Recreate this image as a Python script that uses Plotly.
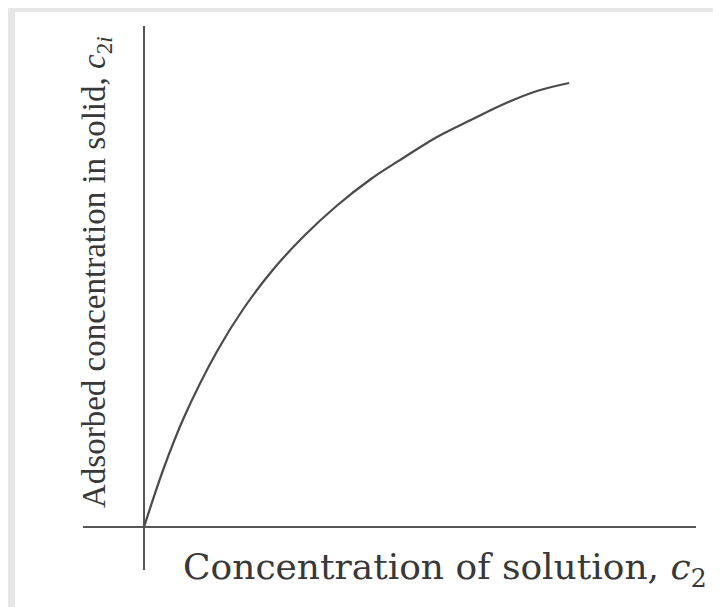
import plotly.graph_objects as go

# Concentration of solution, c2 (arbitrary units) and adsorbed concentration in solid, c2i
c2 = [0.0, 0.47, 0.93, 1.70, 2.33, 3.03, 3.73, 4.50, 5.29, 6.06, 6.83, 7.62, 8.39, 9.16, 9.91]
c2i = [0.0, 1.20, 2.19, 3.51, 4.38, 5.17, 5.82, 6.43, 6.96, 7.39, 7.80, 8.14, 8.46, 8.72, 8.88]

x_label = "Concentration of solution, <i>c</i><sub>2</sub>"
y_label = "Adsorbed concentration in solid, <i>c</i><sub>2<i>i</i></sub>"

W, H = 721, 607
ML, MR, MT, MB = 75, 33, 18, 45
pw, ph = W - ML - MR, H - MT - MB

def px(x):
    return (x - ML) / pw

def py(y):
    return (H - MB - y) / ph

fig = go.Figure()
fig.add_trace(go.Scatter(
    x=c2, y=c2i, mode="lines",
    line=dict(color="#4a4a4a", width=2.2, shape="spline", smoothing=1.0),
    hoverinfo="skip", showlegend=False,
))

ink = "#383838"
fig.update_xaxes(range=[-1.422, 12.867], showgrid=False, showticklabels=False, ticks="",
                 zeroline=True, zerolinecolor="#555555", zerolinewidth=2, showline=False)
fig.update_yaxes(range=[-0.86, 10.02], showgrid=False, showticklabels=False, ticks="",
                 zeroline=True, zerolinecolor="#555555", zerolinewidth=2, showline=False)

fig.add_annotation(text=x_label, xref="paper", yref="paper", x=px(437), y=py(561),
                   xanchor="center", yanchor="middle", showarrow=False,
                   font=dict(family="DejaVu Serif", size=36, color=ink))
fig.add_annotation(text=y_label, xref="paper", yref="paper", x=px(88), y=py(264),
                   xanchor="center", yanchor="middle", showarrow=False, textangle=-90,
                   font=dict(family="Liberation Serif", size=33, color=ink))

# scanned-page frame on the left and top edges
fig.add_shape(type="rect", xref="paper", yref="paper", x0=px(0), x1=px(7), y0=py(H), y1=py(0),
              fillcolor="#e6e6e6", line=dict(width=0), layer="below")
fig.add_shape(type="rect", xref="paper", yref="paper", x0=px(0), x1=px(W), y0=py(4), y1=py(0),
              fillcolor="#e6e6e6", line=dict(width=0), layer="below")

fig.update_layout(
    width=W, height=H, margin=dict(l=ML, r=MR, t=MT, b=MB),
    paper_bgcolor="white", plot_bgcolor="white",
)
fig.write_html("out.html")
